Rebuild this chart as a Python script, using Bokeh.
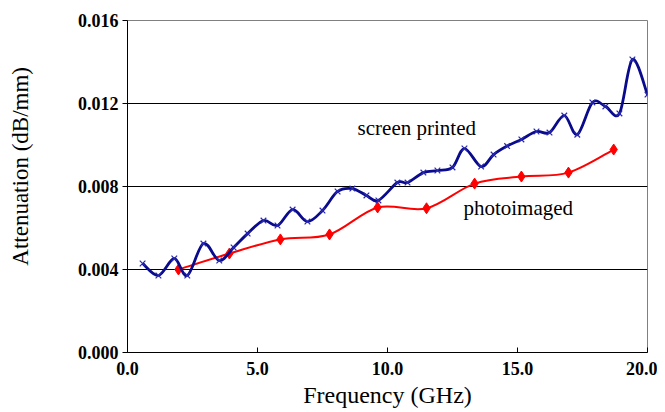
import numpy as np
from bokeh.plotting import figure
from bokeh.models import Label, FixedTicker, Range1d
from bokeh.embed import file_html
from bokeh.resources import INLINE

# Screen printed (blue)
sp_freq = [0.58, 1.19, 1.80, 2.30, 2.92, 3.53, 4.08, 4.62, 5.23, 5.77, 6.35, 6.92,
           7.50, 8.08, 8.65, 9.19, 9.65, 10.38, 10.77, 11.38, 11.92, 12.50, 12.96,
           13.60, 14.08, 14.60, 15.15, 15.73, 16.23, 16.80, 17.30, 17.88, 18.38,
           18.92, 19.42, 20.00]
sp_att = [0.00429, 0.00371, 0.00453, 0.00371, 0.00525, 0.00443, 0.00506, 0.00573,
          0.00636, 0.00612, 0.00689, 0.00631, 0.00684, 0.00776, 0.00790, 0.00757,
          0.00733, 0.00819, 0.00819, 0.00867, 0.00877, 0.00892, 0.00983, 0.00896,
          0.00954, 0.00995, 0.01027, 0.01065, 0.01060, 0.01142, 0.01050, 0.01205,
          0.01186, 0.01152, 0.01412, 0.01243]

# Photoimaged (red)
pi_freq = [1.96, 3.92, 5.88, 7.77, 9.62, 11.50, 13.35, 15.15, 16.96, 18.70]
pi_att = [0.00400, 0.00477, 0.00545, 0.00569, 0.00699, 0.00695, 0.00814, 0.00848,
          0.00867, 0.00978]

y_ticks = [0.000, 0.004, 0.008, 0.012, 0.016]
y_tick_labels = ["0.000", "0.004", "0.008", "0.012", "0.016"]
x_ticks = [0, 5, 10, 15, 20]
x_tick_labels = ["0.0", "5.0", "10.0", "15.0", "20.0"]

SERIF = "Liberation Serif"

p = figure(width=657, height=411, output_backend="svg", toolbar_location=None,
           x_range=Range1d(0, 20), y_range=Range1d(0, 0.016),
           min_border_left=127, min_border_right=10, min_border_top=20,
           min_border_bottom=59)
p.background_fill_color = "white"
p.border_fill_color = "white"
p.outline_line_color = "#808080"
p.outline_line_width = 1

# axes
p.xaxis.ticker = FixedTicker(ticks=x_ticks)
p.yaxis.ticker = FixedTicker(ticks=y_ticks)
p.xaxis.major_label_overrides = {t: l for t, l in zip(x_ticks, x_tick_labels)}
p.yaxis.major_label_overrides = {t: l for t, l in zip(y_ticks, y_tick_labels)}
for ax in (p.xaxis, p.yaxis):
    ax.axis_line_color = "black"
    ax.axis_line_width = 1
    ax.major_tick_line_color = "black"
    ax.minor_tick_line_color = None
    ax.major_label_text_font = SERIF
    ax.major_label_text_font_style = "bold"
    ax.major_label_text_font_size = "18px"
    ax.major_label_text_color = "black"
    ax.axis_label_text_font = SERIF
    ax.axis_label_text_font_style = "normal"
    ax.axis_label_text_color = "black"

p.xaxis.major_tick_in = 5
p.xaxis.major_tick_out = 0
p.xaxis.major_label_standoff = 9
p.xaxis.axis_label = "Frequency (GHz)"
p.xaxis.axis_label_text_font_size = "24px"
p.xaxis.axis_label_standoff = 4

p.yaxis.major_tick_in = 0
p.yaxis.major_tick_out = 5
p.yaxis.major_label_standoff = 4
# leading no-break spaces lift the title above the frame's centre, as in the original
p.yaxis.axis_label = "\u00a0" * 7 + "Attenuation (dB/mm)"
p.yaxis.axis_label_text_font_size = "23px"
p.yaxis.axis_label_standoff = 42

p.xgrid.grid_line_color = None
p.ygrid.grid_line_color = "black"
p.ygrid.grid_line_width = 1
p.ygrid.ticker = FixedTicker(ticks=y_ticks)


def smooth(xs, ys):
    """Catmull-Rom style smoothing expressed as bezier control points."""
    x = np.asarray(xs, float)
    y = np.asarray(ys, float)
    n = len(x)
    x0, y0, x1, y1, cx0, cy0, cx1, cy1 = ([] for _ in range(8))
    for i in range(n - 1):
        im = max(i - 1, 0)
        ip2 = min(i + 2, n - 1)
        x0.append(x[i]); y0.append(y[i])
        x1.append(x[i + 1]); y1.append(y[i + 1])
        cx0.append(x[i] + (x[i + 1] - x[im]) / 6.0)
        cy0.append(y[i] + (y[i + 1] - y[im]) / 6.0)
        cx1.append(x[i + 1] - (x[ip2] - x[i]) / 6.0)
        cy1.append(y[i + 1] - (y[ip2] - y[i]) / 6.0)
    return dict(x0=x0, y0=y0, x1=x1, y1=y1, cx0=cx0, cy0=cy0, cx1=cx1, cy1=cy1)


BLUE = "#0a0a8c"
RED = "#ff0000"

p.bezier(line_color=RED, line_width=2, **smooth(pi_freq, pi_att))
p.scatter(pi_freq, pi_att, marker="diamond", size=11, fill_color=RED, line_color=RED)

p.bezier(line_color=BLUE, line_width=2.8, **smooth(sp_freq, sp_att))
p.scatter(sp_freq, sp_att, marker="x", size=8, line_color="#2a2ab0", line_width=1.2)

p.add_layout(Label(x=8.85, y=0.01084, text="screen printed", text_font=SERIF,
                   text_font_size="21px", text_baseline="alphabetic", text_align="left",
                   text_color="black"))
p.add_layout(Label(x=12.92, y=0.00694, text="photoimaged", text_font=SERIF,
                   text_font_size="21px", text_baseline="alphabetic", text_align="left",
                   text_color="black"))

open("out.html", "w").write(file_html(p, INLINE))
